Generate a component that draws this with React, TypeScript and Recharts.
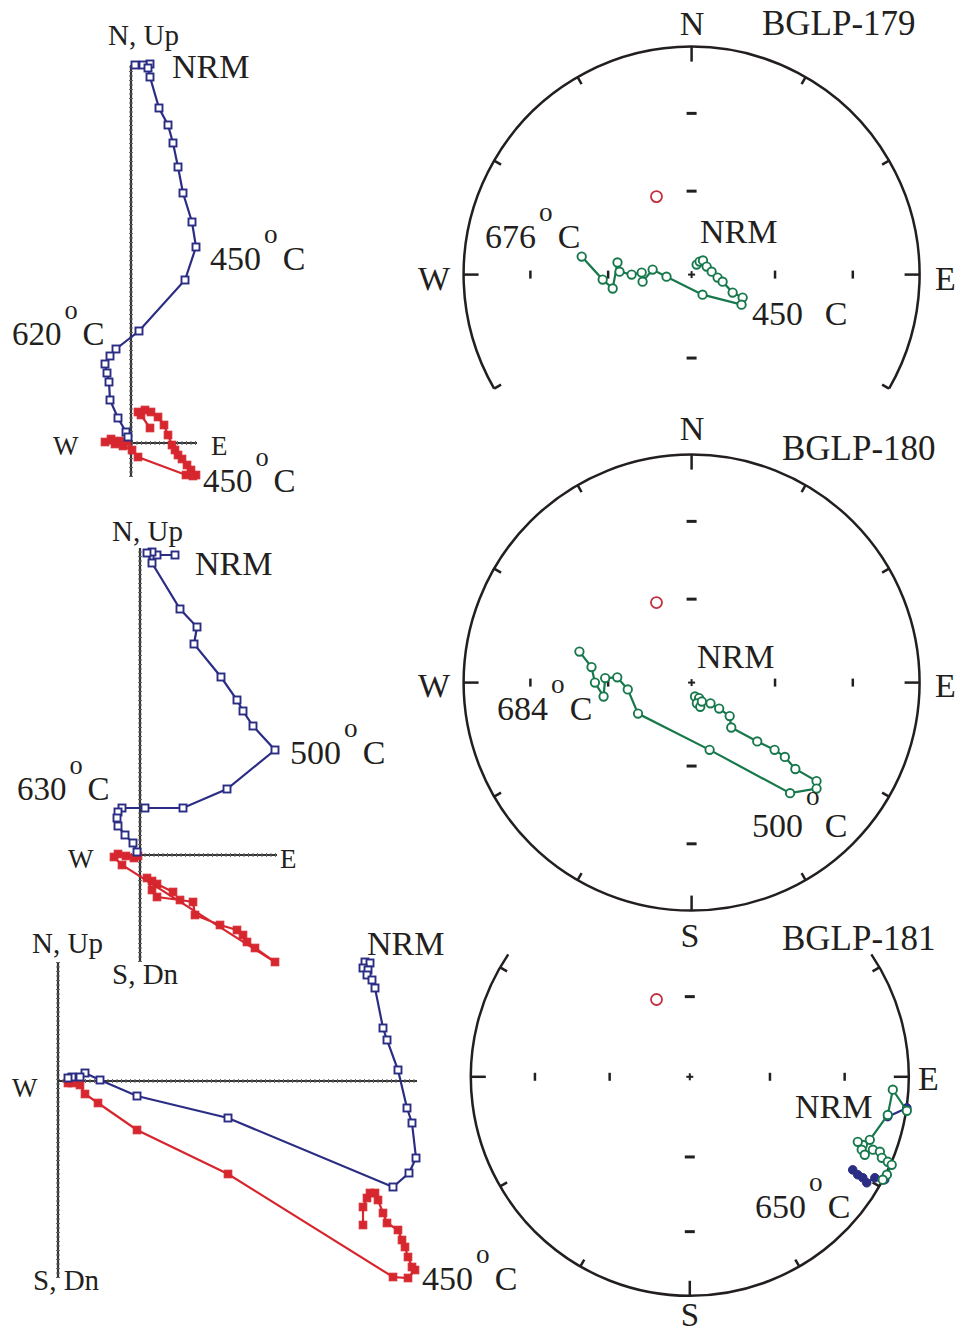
import React from 'react';
import { ScatterChart, Scatter, XAxis, YAxis, ReferenceLine, ReferenceDot } from 'recharts';

type Pair = [number, number];

// ---------- Zijderveld diagrams (arbitrary units) ----------
// vertical projection: [E, Up]   horizontal projection: [E, N]
const bglp179Vertical: Pair[] = [
  [1.9, 37.9], [1.2, 37.8], [0.4, 37.8], [1.7, 37.5], [1.9, 36.6], [2.8, 33.5], [3.7, 31.8],
  [4.2, 30.0], [4.7, 27.6], [5.2, 25.0], [6.1, 22.1], [6.5, 19.6], [5.4, 16.3], [0.8, 11.2],
  [-1.5, 9.4], [-2.1, 8.7], [-2.6, 7.9], [-2.4, 7.0], [-2.2, 6.1], [-2.1, 4.3], [-1.3, 2.5],
  [-0.5, 1.1], [-0.3, 0.6],
];
const bglp179Horizontal: Pair[] = [
  [1.9, 1.5], [1.0, 2.8], [0.7, 3.1], [1.4, 3.3], [2.0, 3.1], [2.7, 2.6], [3.3, 1.8], [3.7, 0.8],
  [4.1, -0.2], [4.4, -0.7], [4.7, -1.2], [5.1, -1.6], [5.6, -2.2], [6.0, -2.7], [6.5, -3.2],
  [6.2, -3.3], [5.5, -3.2], [0.7, -1.4], [0.1, -0.7], [-0.8, -0.3], [-1.6, -0.1], [-2.6, 0.1],
  [-2.0, 0.4], [-1.2, 0.2], [-0.4, 0.1],
];

const bglp180Vertical: Pair[] = [
  [3.5, 30.0], [1.7, 30.0], [1.2, 30.3], [0.7, 30.2], [1.2, 29.2], [4.0, 24.6], [5.7, 22.8],
  [5.4, 21.1], [8.1, 17.8], [9.7, 15.5], [10.3, 14.4], [11.3, 12.9], [13.5, 10.5], [8.7, 6.6],
  [4.3, 4.7], [0.5, 4.7], [-1.8, 4.7], [-2.2, 4.3], [-2.3, 3.7], [-2.2, 2.9], [-1.5, 2.0],
  [-0.7, 1.2], [-0.3, 0.3],
];
const bglp180Horizontal: Pair[] = [
  [3.3, -3.7], [1.7, -2.9], [1.2, -2.6], [0.7, -2.3], [1.2, -3.5], [1.7, -4.2], [4.0, -4.5],
  [5.3, -4.7], [5.5, -6.0], [8.0, -7.0], [9.7, -7.5], [10.3, -8.0], [10.7, -8.7], [11.5, -9.3],
  [13.5, -10.7], [-1.8, -1.0], [-2.6, -0.2], [-2.2, 0.1], [-1.4, -0.1], [-0.6, -0.3], [-0.2, -0.1],
];

const bglp181Vertical: Pair[] = [
  [30.7, 11.9], [31.2, 11.8], [30.5, 11.3], [31.0, 11.1], [30.9, 10.6], [31.4, 10.1], [31.7, 9.3],
  [32.5, 5.3], [32.9, 4.1], [34.0, 1.1], [34.9, -2.7], [35.4, -4.2], [35.8, -7.7], [35.1, -9.2],
  [33.5, -10.6], [17.0, -3.7], [7.9, -1.5], [4.2, 0.1], [2.7, 0.8], [2.2, 0.4], [1.4, 0.4], [1.0, 0.3],
];
const bglp181Horizontal: Pair[] = [
  [30.5, -14.4], [30.5, -12.6], [30.9, -11.7], [31.2, -11.2], [31.7, -11.2], [32.0, -11.9],
  [32.5, -13.2], [32.9, -14.2], [34.0, -14.9], [34.4, -15.9], [34.7, -16.6], [35.0, -17.6],
  [35.4, -18.6], [35.7, -18.9], [35.0, -19.7], [33.5, -19.6], [17.0, -9.3], [7.9, -4.9],
  [4.0, -2.2], [2.7, -1.3], [2.2, -0.4], [1.4, -0.2], [1.0, -0.2],
];

// ---------- Equal-area stereonets: [east, north] on the unit circle ----------
const bglp179Upper: Pair[] = [
  [0.022, 0.044], [0.035, 0.057], [0.050, 0.062], [0.066, 0.035], [0.088, 0.013], [0.114, -0.013],
  [0.136, -0.031], [0.180, -0.079], [0.224, -0.101], [0.219, -0.132], [0.048, -0.088],
  [-0.110, -0.009], [-0.171, 0.022], [-0.215, -0.031], [-0.219, 0.009], [-0.263, 0.0],
  [-0.316, 0.013], [-0.325, 0.053], [-0.346, -0.061], [-0.390, -0.022], [-0.482, 0.079],
];
const bglp179Mean: Pair[] = [[-0.154, 0.342]];

const bglp180Upper: Pair[] = [
  [0.015, -0.061], [0.033, -0.068], [0.023, -0.091], [0.038, -0.106], [0.045, -0.083],
  [0.083, -0.091], [0.121, -0.114], [0.167, -0.147], [0.174, -0.197], [0.288, -0.258],
  [0.364, -0.295], [0.409, -0.326], [0.455, -0.379], [0.548, -0.432], [0.548, -0.465],
  [0.432, -0.485], [0.079, -0.295], [-0.235, -0.136], [-0.280, -0.030], [-0.326, 0.023],
  [-0.379, 0.020], [-0.386, -0.061], [-0.424, 0.0], [-0.439, 0.068], [-0.492, 0.136],
];
const bglp180Mean: Pair[] = [[-0.154, 0.351]];

const bglp181Upper: Pair[] = [
  [0.991, -0.155], [0.927, -0.059], [0.904, -0.174], [0.822, -0.288], [0.790, -0.311],
  [0.767, -0.297], [0.785, -0.333], [0.799, -0.356], [0.836, -0.333], [0.868, -0.342],
  [0.877, -0.370], [0.904, -0.388], [0.922, -0.402], [0.900, -0.447], [0.881, -0.470],
];
const bglp181LowerA: Pair[] = [[0.991, -0.142], [0.904, -0.182]];
const bglp181LowerB: Pair[] = [
  [0.744, -0.425], [0.767, -0.447], [0.790, -0.461], [0.808, -0.484], [0.845, -0.461], [0.890, -0.470],
];
const bglp181Mean: Pair[] = [[-0.152, 0.353]];

const NET_INCLINATION_TICKS = [30, 60];
const NET_AZIMUTH_STEP = 30;

// ---------- styles ----------
const NAVY = '#2b2d84';
const RED = '#d6262e';
const GREEN = '#17784c';
const INK = '#231f20';
const MEAN_RED = '#c3303f';
const FONT = "'Liberation Serif', 'Times New Roman', serif";

const toPts = (a: Pair[]) => a.map(([x, y]) => ({ x, y }));

const openSquare = (p: any) => (
  <rect x={p.cx - 3.5} y={p.cy - 3.5} width={7} height={7} fill="#fff" stroke={NAVY} strokeWidth={1.9} />
);
const filledSquare = (p: any) => (
  <rect x={p.cx - 3.8} y={p.cy - 3.8} width={7.6} height={7.6} fill={RED} stroke={RED} strokeWidth={1} />
);
const openCircle = (p: any) => (
  <circle cx={p.cx} cy={p.cy} r={4.2} fill="#fff" stroke={GREEN} strokeWidth={1.9} />
);
const filledCircle = (p: any) => (
  <circle cx={p.cx} cy={p.cy} r={4.3} fill={NAVY} stroke={NAVY} strokeWidth={1} />
);
const meanCircle = (p: any) => (
  <circle cx={p.cx} cy={p.cy} r={5.5} fill="none" stroke={MEAN_RED} strokeWidth={1.8} />
);

type Box = { left: number; top: number; width: number; height: number };

function Zijderveld(props: {
  box: Box; origin: Pair; scale: number; hAxis: Pair; vAxis: Pair; vertical: Pair[]; horizontal: Pair[];
}) {
  const { box, origin, scale, hAxis, vAxis, vertical, horizontal } = props;
  const ox = origin[0] - box.left;
  const oy = origin[1] - box.top;
  const xDomain = [-ox / scale, (box.width - ox) / scale];
  const yDomain = [-(box.height - oy) / scale, oy / scale];
  return (
    <div style={{ position: 'absolute', left: box.left, top: box.top }}>
      <ScatterChart width={box.width} height={box.height} margin={{ top: 0, right: 0, bottom: 0, left: 0 }}>
        <XAxis type="number" dataKey="x" domain={xDomain} hide allowDataOverflow height={0} />
        <YAxis type="number" dataKey="y" domain={yDomain} hide allowDataOverflow width={0} />
        <ReferenceLine segment={[{ x: hAxis[0], y: 0 }, { x: hAxis[1], y: 0 }]} stroke="#333" strokeWidth={2.2} />
        <ReferenceLine segment={[{ x: hAxis[0], y: 0 }, { x: hAxis[1], y: 0 }]} stroke="#666" strokeWidth={4} strokeDasharray="1 3.5" />
        <ReferenceLine segment={[{ x: 0, y: vAxis[0] }, { x: 0, y: vAxis[1] }]} stroke="#333" strokeWidth={2.2} />
        <ReferenceLine segment={[{ x: 0, y: vAxis[0] }, { x: 0, y: vAxis[1] }]} stroke="#666" strokeWidth={4} strokeDasharray="1 3.5" />
        <Scatter data={toPts(horizontal)} shape={filledSquare} line={{ stroke: RED, strokeWidth: 2.2 }} lineType="joint" isAnimationActive={false} />
        <Scatter data={toPts(vertical)} shape={openSquare} line={{ stroke: NAVY, strokeWidth: 2.2 }} lineType="joint" isAnimationActive={false} />
      </ScatterChart>
    </div>
  );
}

type InnerTicks = { n: number[]; s: number[]; e: number[]; w: number[] };

function Stereonet(props: {
  center: Pair; R: number; arc: Pair; inner: InnerTicks; upper: Pair[]; lower: Pair[][]; mean: Pair[];
}) {
  const { center, R, arc, inner, upper, lower, mean } = props;
  const pad = 1.2;
  const size = 2 * R * pad;
  const left = center[0] - R * pad;
  const top = center[1] - R * pad;
  const rad = (d: number) => (d * Math.PI) / 180;

  const frame = (p: any) => {
    const { cx, cy } = p;
    const pt = (deg: number, r: number) => [cx + r * Math.cos(rad(deg)), cy - r * Math.sin(rad(deg))];
    const span = arc[1] - arc[0];
    let outline;
    if (span >= 360) {
      outline = <circle cx={cx} cy={cy} r={R} fill="none" stroke={INK} strokeWidth={2.5} />;
    } else {
      const [x1, y1] = pt(arc[0], R);
      const [x2, y2] = pt(arc[1], R);
      outline = (
        <path d={`M ${x1} ${y1} A ${R} ${R} 0 ${span > 180 ? 1 : 0} 0 ${x2} ${y2}`} fill="none" stroke={INK} strokeWidth={2.5} />
      );
    }
    const ticks = [];
    for (let az = 0; az < 360; az += NET_AZIMUTH_STEP) {
      let t = 90 - az;
      while (t < arc[0] - 0.01) t += 360;
      while (t >= arc[0] + 360) t -= 360;
      if (t > arc[1] + 0.01) continue;
      const len = az % 90 === 0 ? 15 : 8;
      const [ax, ay] = pt(t, R);
      const [bx, by] = pt(t, R - len);
      ticks.push(<line key={az} x1={ax} y1={ay} x2={bx} y2={by} stroke={INK} strokeWidth={2.5} />);
    }
    return <g>{outline}{ticks}</g>;
  };

  const rOf = (inc: number) => Math.SQRT2 * Math.sin(rad((90 - inc) / 2));
  const innerDots: { x: number; y: number; vert: boolean; key: string }[] = [];
  inner.n.forEach((i) => innerDots.push({ x: 0, y: rOf(i), vert: false, key: 'n' + i }));
  inner.s.forEach((i) => innerDots.push({ x: 0, y: -rOf(i), vert: false, key: 's' + i }));
  inner.e.forEach((i) => innerDots.push({ x: rOf(i), y: 0, vert: true, key: 'e' + i }));
  inner.w.forEach((i) => innerDots.push({ x: -rOf(i), y: 0, vert: true, key: 'w' + i }));

  return (
    <div style={{ position: 'absolute', left, top }}>
      <ScatterChart width={size} height={size} margin={{ top: 0, right: 0, bottom: 0, left: 0 }}>
        <XAxis type="number" dataKey="x" domain={[-pad, pad]} hide allowDataOverflow height={0} />
        <YAxis type="number" dataKey="y" domain={[-pad, pad]} hide allowDataOverflow width={0} />
        <ReferenceDot x={0} y={0} r={R} shape={frame} ifOverflow="visible" />
        <ReferenceDot
          x={0}
          y={0}
          r={4}
          shape={(p: any) => (
            <g>
              <line x1={p.cx - 3.5} y1={p.cy} x2={p.cx + 3.5} y2={p.cy} stroke={INK} strokeWidth={2} />
              <line x1={p.cx} y1={p.cy - 3.5} x2={p.cx} y2={p.cy + 3.5} stroke={INK} strokeWidth={2} />
            </g>
          )}
        />
        {innerDots.map((d) => (
          <ReferenceDot
            key={d.key}
            x={d.x}
            y={d.y}
            r={4}
            shape={(p: any) =>
              d.vert ? (
                <line x1={p.cx} y1={p.cy - 4} x2={p.cx} y2={p.cy + 4} stroke={INK} strokeWidth={2.5} />
              ) : (
                <line x1={p.cx - 5} y1={p.cy} x2={p.cx + 5} y2={p.cy} stroke={INK} strokeWidth={3} />
              )
            }
          />
        ))}
        <Scatter data={toPts(mean)} shape={meanCircle} isAnimationActive={false} />
        {lower.map((l, i) => (
          <Scatter key={'l' + i} data={toPts(l)} shape={filledCircle} line={{ stroke: NAVY, strokeWidth: 2.2 }} lineType="joint" isAnimationActive={false} />
        ))}
        <Scatter data={toPts(upper)} shape={openCircle} line={{ stroke: GREEN, strokeWidth: 2.2 }} lineType="joint" isAnimationActive={false} />
      </ScatterChart>
    </div>
  );
}

function T(p: { t: string; x: number; y: number; fs?: number; mid?: boolean }) {
  return (
    <text x={p.x} y={p.y} fontSize={p.fs ?? 34} textAnchor={p.mid ? 'middle' : 'start'} fill={INK}>
      {p.t}
    </text>
  );
}

function Deg(p: { t: string; x: number; y: number; fs?: number; showO?: boolean; oDy?: number }) {
  const fs = p.fs ?? 34;
  const w = p.t.length * 0.5 * fs;
  return (
    <g fill={INK}>
      <text x={p.x} y={p.y} fontSize={fs}>{p.t}</text>
      {p.showO !== false && (
        <text x={p.x + w + 3} y={p.y - (p.oDy ?? 0.8) * fs} fontSize={fs * 0.8}>o</text>
      )}
      <text x={p.x + w + 0.64 * fs} y={p.y} fontSize={fs}>C</text>
    </g>
  );
}

export default function App() {
  return (
    <div style={{ position: 'absolute', left: 0, top: 0, width: 959, height: 1334, background: '#fff', fontFamily: FONT }}>
      <Zijderveld
        box={{ left: 0, top: 0, width: 330, height: 500 }}
        origin={[131, 443]}
        scale={10}
        hAxis={[-2.6, 6.6]}
        vAxis={[-3.4, 37.8]}
        vertical={bglp179Vertical}
        horizontal={bglp179Horizontal}
      />
      <Zijderveld
        box={{ left: 0, top: 500, width: 330, height: 500 }}
        origin={[140, 855]}
        scale={10}
        hAxis={[-2.7, 13.7]}
        vAxis={[-10.7, 30.7]}
        vertical={bglp180Vertical}
        horizontal={bglp180Horizontal}
      />
      <Zijderveld
        box={{ left: 0, top: 920, width: 470, height: 414 }}
        origin={[58, 1081]}
        scale={10}
        hAxis={[0, 35.9]}
        vAxis={[-19.7, 11.9]}
        vertical={bglp181Vertical}
        horizontal={bglp181Horizontal}
      />
      <Stereonet
        center={[692, 275]}
        R={228}
        arc={[-30, 210]}
        inner={{ n: NET_INCLINATION_TICKS, s: [60], e: NET_INCLINATION_TICKS, w: NET_INCLINATION_TICKS }}
        upper={bglp179Upper}
        lower={[]}
        mean={bglp179Mean}
      />
      <Stereonet
        center={[692, 683]}
        R={228}
        arc={[0, 360]}
        inner={{ n: NET_INCLINATION_TICKS, s: NET_INCLINATION_TICKS, e: NET_INCLINATION_TICKS, w: NET_INCLINATION_TICKS }}
        upper={bglp180Upper}
        lower={[]}
        mean={bglp180Mean}
      />
      <Stereonet
        center={[690, 1077]}
        R={219}
        arc={[146, 394]}
        inner={{ n: [60], s: NET_INCLINATION_TICKS, e: NET_INCLINATION_TICKS, w: NET_INCLINATION_TICKS }}
        upper={bglp181Upper}
        lower={[bglp181LowerA, bglp181LowerB]}
        mean={bglp181Mean}
      />
      <svg width={959} height={1334} style={{ position: 'absolute', left: 0, top: 0, pointerEvents: 'none' }} fontFamily={FONT}>
        {/* BGLP-179 Zijderveld */}
        <T t="N, Up" x={108} y={45} fs={29} />
        <T t="NRM" x={172} y={78} />
        <Deg t="450" x={210} y={270} />
        <Deg t="620" x={12} y={345} fs={33} />
        <T t="W" x={53} y={455} fs={27} />
        <T t="E" x={211} y={455} fs={27} />
        <Deg t="450" x={203} y={492} fs={33} />
        {/* BGLP-180 Zijderveld */}
        <T t="N, Up" x={112} y={541} fs={29} />
        <T t="NRM" x={195} y={575} />
        <Deg t="500" x={290} y={764} />
        <Deg t="630" x={17} y={800} fs={33} />
        <T t="W" x={68} y={868} fs={27} />
        <T t="E" x={280} y={868} fs={27} />
        <T t="S, Dn" x={112} y={984} fs={29} />
        {/* BGLP-181 Zijderveld */}
        <T t="N, Up" x={32} y={953} fs={29} />
        <T t="W" x={12} y={1097} fs={27} />
        <T t="S, Dn" x={33} y={1290} fs={29} />
        <T t="NRM" x={367} y={955} />
        <Deg t="450" x={422} y={1290} />
        {/* BGLP-179 net */}
        <T t="N" x={692} y={35} mid />
        <T t="BGLP-179" x={762} y={35} fs={35} />
        <T t="W" x={434} y={290} mid />
        <T t="E" x={935} y={290} />
        <Deg t="676" x={485} y={248} />
        <T t="NRM" x={700} y={243} />
        <Deg t="450" x={752} y={325} showO={false} />
        {/* BGLP-180 net */}
        <T t="N" x={692} y={440} mid />
        <T t="BGLP-180" x={782} y={460} fs={35} />
        <T t="W" x={434} y={697} mid />
        <T t="E" x={935} y={697} />
        <T t="NRM" x={697} y={668} />
        <Deg t="684" x={497} y={720} />
        <Deg t="500" x={752} y={837} oDy={0.95} />
        <T t="S" x={690} y={947} mid />
        {/* BGLP-181 net */}
        <T t="BGLP-181" x={782} y={950} fs={35} />
        <T t="E" x={918} y={1090} />
        <T t="NRM" x={795} y={1118} />
        <Deg t="650" x={755} y={1218} />
        <T t="S" x={690} y={1326} fs={33} mid />
      </svg>
    </div>
  );
}
